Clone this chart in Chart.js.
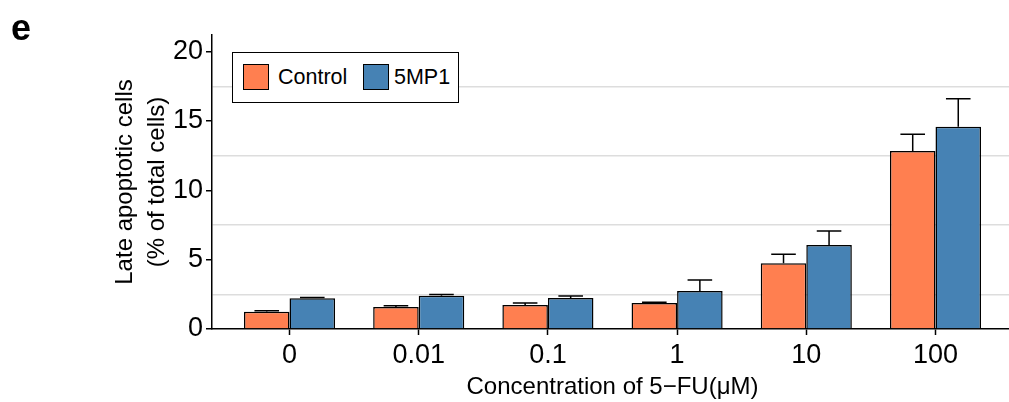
<!DOCTYPE html>
<html>
<head>
<meta charset="utf-8">
<script src="https://cdn.jsdelivr.net/npm/chart.js@4/dist/chart.umd.min.js"></script>
<style>
  body { margin: 0; overflow: hidden; background: #fff; font-family: "Liberation Sans", Arial, sans-serif; }
  #wrap { position: relative; width: 1020px; height: 402px; }
  #tag { position: absolute; left: 11px; top: 10px; font-size: 36px; line-height: 36px; font-weight: bold; }
  #legend { position: absolute; left: 232px; top: 52px; width: 225px; height: 49px; border: 1.5px solid #000; background: #fff; }
  .sw { position: absolute; top: 11px; width: 24px; height: 24px; border: 1.3px solid #000; }
  .lt { position: absolute; top: 11px; font-size: 21.5px; line-height: 26px; }
</style>
</head>
<body>
<div id="wrap">
  <canvas id="c" width="1020" height="402"></canvas>
  <div id="tag">e</div>
  <div id="legend"></div>
</div>
<script>
const categories = ['0', '0.01', '0.1', '1', '10', '100'];
const seriesNames = ['Control', '5MP1'];
const controlValues = [1.24, 1.58, 1.73, 1.87, 4.74, 12.83];
const controlErrors = [0.08, 0.1, 0.14, 0.05, 0.65, 1.21];
const mp1Values = [2.21, 2.40, 2.23, 2.74, 6.06, 14.59];
const mp1Errors = [0.06, 0.08, 0.15, 0.79, 1.01, 2.02];
const yTicks = [0, 5, 10, 15, 20];
const yGrid = [0, 2.5, 5, 7.5, 10, 12.5, 15, 17.5, 20];
const colors = ['#FF7F50', '#4682B4'];

const errors = [controlErrors, mp1Errors];

// upward error bars with caps
const errorBars = {
  id: 'errorBars',
  afterDatasetsDraw(chart) {
    const ctx = chart.ctx;
    const y = chart.scales.y;
    ctx.save();
    ctx.strokeStyle = '#000';
    ctx.lineWidth = 1.5;
    chart.data.datasets.forEach((ds, i) => {
      chart.getDatasetMeta(i).data.forEach((bar, j) => {
        const top = y.getPixelForValue(ds.data[j].y + errors[i][j]);
        const half = bar.width * 0.27;
        ctx.beginPath();
        ctx.moveTo(bar.x, bar.y);
        ctx.lineTo(bar.x, top);
        ctx.moveTo(bar.x - half, top);
        ctx.lineTo(bar.x + half, top);
        ctx.stroke();
      });
    });
    ctx.restore();
  }
};

const toPoints = vals => vals.map((v, i) => ({ x: i, y: v }));

const chart = new Chart(document.getElementById('c'), {
  type: 'bar',
  data: {
    datasets: [
      { label: seriesNames[0], data: toPoints(controlValues), backgroundColor: colors[0], borderColor: '#000', borderWidth: 1.5 },
      { label: seriesNames[1], data: toPoints(mp1Values), backgroundColor: colors[1], borderColor: '#000', borderWidth: 1.5 }
    ]
  },
  options: {
    responsive: false,
    animation: false,
    categoryPercentage: 0.705,
    barPercentage: 1,
    layout: { padding: { top: 35, right: 7, bottom: 0, left: 0 } },
    plugins: { legend: { display: false }, tooltip: { enabled: false } },
    scales: {
      x: {
        type: 'linear',
        min: -0.6,
        max: 5.6,
        offset: false,
        afterBuildTicks: s => { s.ticks = categories.map((c, i) => ({ value: i })); },
        afterFit: s => { s.height = 73; },
        ticks: {
          autoSkip: false,
          maxRotation: 0,
          padding: 4,
          color: '#000',
          font: { family: 'Liberation Sans', size: 27 },
          callback: v => categories[v]
        },
        grid: { offset: false, drawOnChartArea: false, tickLength: 6, tickColor: '#000', tickWidth: 1.5 },
        border: { color: '#000', width: 1.5 },
        title: {
          display: true,
          text: 'Concentration of 5\u2212FU(\u03bcM)',
          color: '#000',
          font: { family: 'Liberation Sans', size: 24 },
          padding: { top: 0, bottom: 0 }
        }
      },
      y: {
        min: 0,
        max: 21.2,
        afterBuildTicks: s => { s.ticks = yGrid.map(v => ({ value: v })); },
        afterFit: s => { s.width = 212; },
        ticks: {
          autoSkip: false,
          padding: 3,
          color: '#000',
          font: { family: 'Liberation Sans', size: 27 },
          callback: v => (yTicks.includes(v) ? v : '')
        },
        grid: {
          color: c => (yTicks.includes(c.tick.value) ? 'rgba(0,0,0,0)' : '#dddddd'),
          lineWidth: 1.5,
          tickLength: 6,
          tickWidth: 1.5,
          tickColor: c => (yTicks.includes(c.tick.value) ? '#000' : 'rgba(0,0,0,0)')
        },
        border: { color: '#000', width: 1.5 },
        title: {
          display: true,
          text: ['Late apoptotic cells', '(% of total cells)'],
          color: '#000',
          font: { family: 'Liberation Sans', size: 24, lineHeight: 1.33 },
          padding: { top: 109, bottom: 0 }
        }
      }
    }
  },
  plugins: [errorBars]
});

// legend box built from the dataset names and colours
const legend = document.getElementById('legend');
const swX = [10, 130];
const txtX = [45, 161];
seriesNames.forEach((name, i) => {
  const sw = document.createElement('div');
  sw.className = 'sw';
  sw.style.left = swX[i] + 'px';
  sw.style.background = colors[i];
  legend.appendChild(sw);
  const t = document.createElement('div');
  t.className = 'lt';
  t.style.left = txtX[i] + 'px';
  t.textContent = name;
  legend.appendChild(t);
});
</script>
</body>
</html>
